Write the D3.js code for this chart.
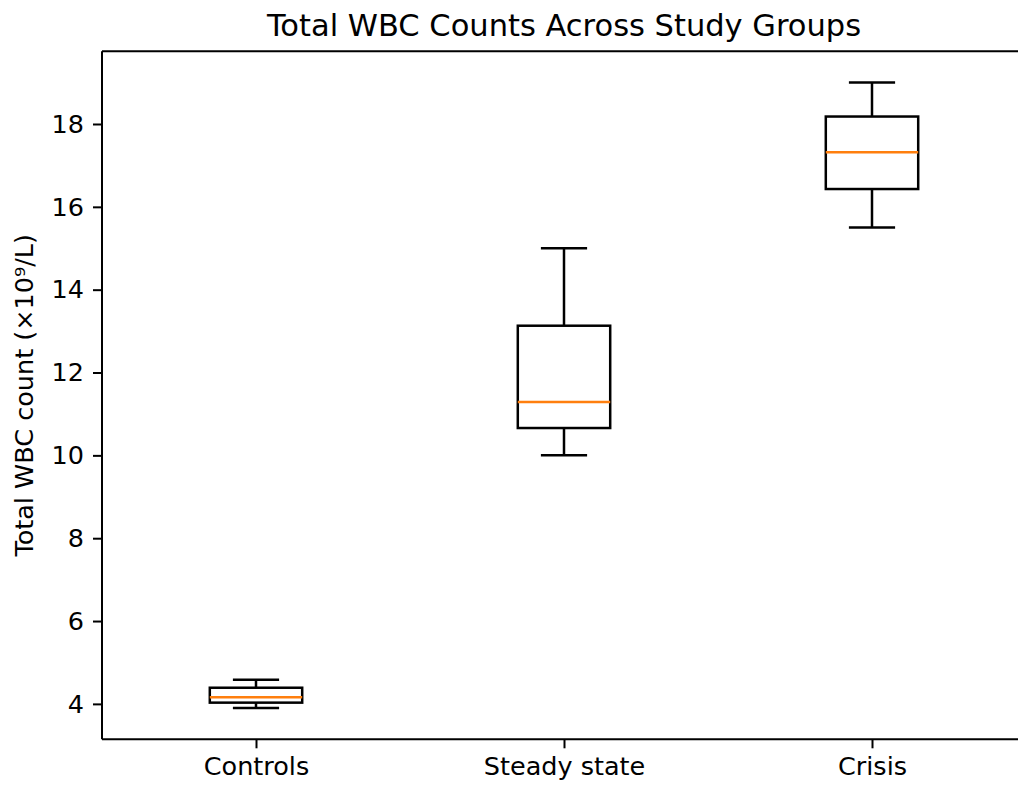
<!DOCTYPE html>
<html>
<head>
<meta charset="utf-8">
<script src="https://cdn.jsdelivr.net/npm/d3@7"></script>
<style>
  body { margin: 0; background: #fff; overflow: hidden; }
  svg { display: block; overflow: hidden; }
  text { font-family: "DejaVu Sans", sans-serif; fill: #000; }
</style>
</head>
<body>
<div id="chart"></div>
<script>
// box stats
let groups = ["Controls", "Steady state", "Crisis"];
let whiskerLow = [3.90, 10.0, 15.5];
let q1 = [4.03, 10.66, 16.43];
let medians = [4.16, 11.29, 17.32];
let q3 = [4.39, 13.13, 18.18];
let whiskerHigh = [4.58, 15.0, 19.0];
let yTicks = [4, 6, 8, 10, 12, 14, 16, 18];

let svgWidth = 1018;
let svgHeight = 789;

let margin = { top: 51.3, left: 102 };
let width = 924;
let height = 688;

let svg = d3.select("#chart")
    .append("svg")
    .attr("width", svgWidth)
    .attr("height", svgHeight)

let chartGroup = svg.append("g")
    .attr("transform", `translate(${margin.left}, ${margin.top})`);

let data = groups.map((g, i) => ({
    name: g, pos: i + 1,
    lo: whiskerLow[i], q1: q1[i], med: medians[i], q3: q3[i], hi: whiskerHigh[i]
}));

// matplotlib-like 5% padding
let yMin = d3.min(whiskerLow), yMax = d3.max(whiskerHigh);
let pad = (yMax - yMin) * 0.05;

let xScale = d3.scaleLinear()
    .domain([0.5, 3.5])
    .range([0, width]);

let yScale = d3.scaleLinear()
    .domain([yMin - pad, yMax + pad])
    .range([height, 0]);

let boxW = 0.3;

let boxes = chartGroup.selectAll(".box")
    .data(data)
    .enter()
    .append("g")
    .attr("class", "box")

// whiskers
boxes.append("line")
    .attr("x1", d => xScale(d.pos)).attr("x2", d => xScale(d.pos))
    .attr("y1", d => yScale(d.lo)).attr("y2", d => yScale(d.q1))
    .attr("stroke", "#000").attr("stroke-width", 2.5)
boxes.append("line")
    .attr("x1", d => xScale(d.pos)).attr("x2", d => xScale(d.pos))
    .attr("y1", d => yScale(d.q3)).attr("y2", d => yScale(d.hi))
    .attr("stroke", "#000").attr("stroke-width", 2.5)

// caps
boxes.append("line")
    .attr("x1", d => xScale(d.pos - boxW / 4)).attr("x2", d => xScale(d.pos + boxW / 4))
    .attr("y1", d => yScale(d.lo)).attr("y2", d => yScale(d.lo))
    .attr("stroke", "#000").attr("stroke-width", 2.5)
boxes.append("line")
    .attr("x1", d => xScale(d.pos - boxW / 4)).attr("x2", d => xScale(d.pos + boxW / 4))
    .attr("y1", d => yScale(d.hi)).attr("y2", d => yScale(d.hi))
    .attr("stroke", "#000").attr("stroke-width", 2.5)

// box
boxes.append("rect")
    .attr("x", d => xScale(d.pos - boxW / 2))
    .attr("width", d => xScale(d.pos + boxW / 2) - xScale(d.pos - boxW / 2))
    .attr("y", d => yScale(d.q3))
    .attr("height", d => yScale(d.q1) - yScale(d.q3))
    .attr("fill", "none")
    .attr("stroke", "#000").attr("stroke-width", 2.5)

// median
boxes.append("line")
    .attr("x1", d => xScale(d.pos - boxW / 2)).attr("x2", d => xScale(d.pos + boxW / 2))
    .attr("y1", d => yScale(d.med)).attr("y2", d => yScale(d.med))
    .attr("stroke", "#ff7f0e").attr("stroke-width", 2.5)

let leftAxis = d3.axisLeft(yScale)
    .tickValues(yTicks)
    .tickFormat(d3.format("d"))
    .tickSize(9)
    .tickPadding(9)

let bottomAxis = d3.axisBottom(xScale)
    .tickValues(data.map(d => d.pos))
    .tickFormat((d, i) => groups[i])
    .tickSize(9)
    .tickPadding(9)

let yAxisG = chartGroup.append("g").call(leftAxis)
let xAxisG = chartGroup.append("g")
    .attr("transform", `translate(0, ${height})`)
    .call(bottomAxis)

;[yAxisG, xAxisG].forEach(g => {
    g.select(".domain").remove()
    g.selectAll(".tick line").attr("stroke", "#000").attr("stroke-width", 2)
    g.selectAll(".tick text")
        .attr("font-family", "DejaVu Sans")
        .attr("font-size", "25.5px")
        .attr("fill", "#000")
})

// spines (the right one falls outside the picture)
let spines = [[0, 0, 0, height], [0, 0, width, 0], [0, height, width, height]]
chartGroup.selectAll(".spine")
    .data(spines)
    .enter()
    .append("line")
    .attr("class", "spine")
    .attr("x1", d => d[0]).attr("y1", d => d[1])
    .attr("x2", d => d[2]).attr("y2", d => d[3])
    .attr("stroke", "#000")
    .attr("stroke-width", 2)

// title
svg.append("text")
    .attr("x", margin.left + width / 2)
    .attr("y", 36)
    .attr("text-anchor", "middle")
    .attr("font-size", "30.5px")
    .text("Total WBC Counts Across Study Groups")

// y label
svg.append("text")
    .attr("transform", `translate(33, ${margin.top + height / 2}) rotate(-90)`)
    .attr("text-anchor", "middle")
    .attr("font-size", "25.5px")
    .text("Total WBC count (×10⁹/L)")
</script>
</body>
</html>
